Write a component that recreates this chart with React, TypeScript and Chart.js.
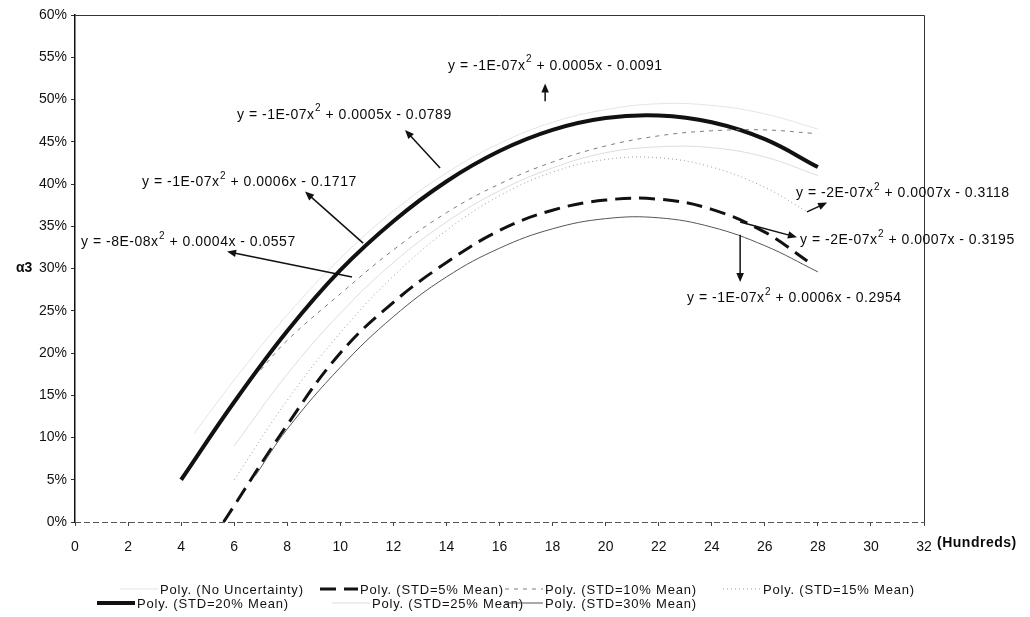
import React, { useEffect, useRef } from "react";
import { Chart, registerables } from "chart.js";
Chart.register(...registerables);

// ---------- data (x in hundreds, y in %) ----------
const SERIES_NAMES = [
  "Poly. (No Uncertainty)",
  "Poly. (STD=5% Mean)",
  "Poly. (STD=10% Mean)",
  "Poly. (STD=15% Mean)",
  "Poly. (STD=20% Mean)",
  "Poly. (STD=25% Mean)",
  "Poly. (STD=30% Mean)",
];

const X_NO_UNC = [4.5, 6, 8, 10, 12, 14, 16, 18, 20, 22, 24, 26, 28];
const Y_NO_UNC = [10.5, 16.8, 24.5, 31.2, 36.8, 41.3, 44.8, 47.3, 48.8, 49.5, 49.3, 48.3, 46.5];

const X_STD5 = [5.6, 8, 10, 12, 14, 16, 18, 20, 22, 24, 26, 27.6];
const Y_STD5 = [0, 11.5, 20.0, 26.0, 30.7, 34.5, 36.9, 38.1, 38.2, 37.0, 34.3, 30.9];

const X_STD10 = [7, 8, 10, 12, 14, 16, 18, 20, 22, 24, 26, 27.8];
const Y_STD10 = [18.0, 21.5, 27.0, 32.2, 36.6, 40.0, 42.6, 44.5, 45.7, 46.3, 46.4, 46.0];

const X_STD15 = [6, 8, 10, 12, 14, 16, 18, 20, 22, 24, 26, 27.6];
const Y_STD15 = [5.0, 14.4, 22.4, 29.1, 34.5, 38.6, 41.4, 42.9, 43.1, 42.0, 39.6, 36.7];

const X_STD20 = [4, 6, 8, 10, 12, 14, 16, 18, 20, 22, 24, 26, 28];
const Y_STD20 = [5.0, 14.2, 22.6, 29.8, 35.6, 40.3, 43.9, 46.4, 47.8, 48.1, 47.3, 45.3, 42.0];

const X_STD25 = [6, 8, 10, 12, 14, 16, 18, 20, 22, 24, 26, 28];
const Y_STD25 = [9.0, 17.5, 24.7, 30.7, 35.5, 39.2, 41.9, 43.7, 44.4, 44.3, 43.2, 41.0];

const X_STD30 = [6.8, 8, 10, 12, 14, 16, 18, 20, 22, 24, 26, 28];
const Y_STD30 = [5.5, 11.0, 18.3, 24.3, 29.0, 32.4, 34.7, 35.9, 36.0, 34.9, 32.7, 29.6];

const X_MIN = 0;
const X_MAX = 32;
const X_STEP = 2;
const Y_MIN = 0;
const Y_MAX = 60;
const Y_STEP = 5;

// trendline equation labels: [before superscript, superscript, after]
const EQUATIONS = [
  ["y = -1E-07x", "2", " + 0.0005x - 0.0091"],
  ["y = -1E-07x", "2", " + 0.0005x - 0.0789"],
  ["y = -1E-07x", "2", " + 0.0006x - 0.1717"],
  ["y = -8E-08x", "2", " + 0.0004x - 0.0557"],
  ["y = -2E-07x", "2", " + 0.0007x - 0.3118"],
  ["y = -2E-07x", "2", " + 0.0007x - 0.3195"],
  ["y = -1E-07x", "2", " + 0.0006x - 0.2954"],
];

// ---------- layout / styles (kept apart from data) ----------
// label anchor (left, middle) in data coords
const EQ_ANCHOR = [
  [14.06, 54.0],
  [6.11, 48.2],
  [2.53, 40.2],
  [0.23, 33.1],
  [27.18, 38.9],
  [27.33, 33.4],
  [23.07, 26.5],
];
// arrow [tailX, tailY, headX, headY] in data coords
const EQ_ARROW = [
  [17.72, 49.8, 17.72, 51.9],
  [13.76, 41.9, 12.44, 46.4],
  [10.86, 33.0, 8.67, 39.1],
  [10.44, 29.0, 5.73, 32.0],
  [27.59, 36.7, 28.35, 37.8],
  [25.07, 35.5, 27.21, 33.7],
  [25.07, 34.0, 25.07, 28.4],
];

const STYLES = [
  { color: "#e4e4e4", width: 1, dash: [] as number[] },
  { color: "#111111", width: 3, dash: [16, 8] },
  { color: "#7a7a7a", width: 1, dash: [4, 5] },
  { color: "#9a9a9a", width: 1, dash: [1, 3] },
  { color: "#111111", width: 4, dash: [] as number[] },
  { color: "#dcdcdc", width: 1, dash: [] as number[] },
  { color: "#555555", width: 1, dash: [] as number[] },
];

// legend item positions: [textLeft, centerY]
const LEGEND_POS = [
  [160, 589],
  [360, 589],
  [545, 589],
  [763, 589],
  [137, 603],
  [372, 603],
  [545, 603],
];

const SERIES_X = [X_NO_UNC, X_STD5, X_STD10, X_STD15, X_STD20, X_STD25, X_STD30];
const SERIES_Y = [Y_NO_UNC, Y_STD5, Y_STD10, Y_STD15, Y_STD20, Y_STD25, Y_STD30];
const DRAW_ORDER = [0, 5, 3, 2, 6, 1, 4];

const FONT = '"Liberation Sans", Arial, sans-serif';

const overlayPlugin = {
  id: "overlay",
  afterDatasetsDraw(chart: any) {
    const { ctx, chartArea: a, scales } = chart;
    const xs = scales.x;
    const ys = scales.y;
    ctx.save();
    // frame: top + right solid, bottom dashed grey
    ctx.strokeStyle = "#333";
    ctx.lineWidth = 1;
    ctx.beginPath();
    ctx.moveTo(a.left, a.top + 0.5);
    ctx.lineTo(a.right + 0.5, a.top + 0.5);
    ctx.lineTo(a.right + 0.5, a.bottom);
    ctx.stroke();
    ctx.strokeStyle = "#555";
    ctx.setLineDash([6, 3]);
    ctx.beginPath();
    ctx.moveTo(a.left, a.bottom + 0.5);
    ctx.lineTo(a.right, a.bottom + 0.5);
    ctx.stroke();
    ctx.setLineDash([]);

    // arrows
    ctx.strokeStyle = "#111";
    ctx.fillStyle = "#111";
    ctx.lineWidth = 1.5;
    EQ_ARROW.forEach(([tx, ty, hx, hy]) => {
      const x1 = xs.getPixelForValue(tx);
      const y1 = ys.getPixelForValue(ty);
      const x2 = xs.getPixelForValue(hx);
      const y2 = ys.getPixelForValue(hy);
      const ang = Math.atan2(y2 - y1, x2 - x1);
      const L = 9;
      const W = 3.8;
      ctx.beginPath();
      ctx.moveTo(x1, y1);
      ctx.lineTo(x2 - Math.cos(ang) * L * 0.8, y2 - Math.sin(ang) * L * 0.8);
      ctx.stroke();
      ctx.beginPath();
      ctx.moveTo(x2, y2);
      ctx.lineTo(x2 - Math.cos(ang) * L - Math.sin(ang) * W, y2 - Math.sin(ang) * L + Math.cos(ang) * W);
      ctx.lineTo(x2 - Math.cos(ang) * L + Math.sin(ang) * W, y2 - Math.sin(ang) * L - Math.cos(ang) * W);
      ctx.closePath();
      ctx.fill();
    });

    // equations
    ctx.fillStyle = "#0a0a0a";
    ctx.textBaseline = "middle";
    ctx.textAlign = "left";
    if ("letterSpacing" in ctx) (ctx as any).letterSpacing = "0.5px";
    EQUATIONS.forEach(([p1, sup, p2], i) => {
      const [ax, ay] = EQ_ANCHOR[i];
      let px = xs.getPixelForValue(ax);
      const py = ys.getPixelForValue(ay);
      ctx.font = "14px " + FONT;
      ctx.fillText(p1, px, py);
      px += ctx.measureText(p1).width + 0.5;
      ctx.font = "10px " + FONT;
      ctx.fillText(sup, px, py - 6);
      px += ctx.measureText(sup).width;
      ctx.font = "14px " + FONT;
      ctx.fillText(p2, px, py);
    });

    // axis titles
    ctx.font = "bold 14px " + FONT;
    ctx.fillText("(Hundreds)", a.right + 13, a.bottom + 21);
    if ("letterSpacing" in ctx) (ctx as any).letterSpacing = "0px";
    ctx.fillText("α3", 16, ys.getPixelForValue(30));
    ctx.restore();
  },
};

function LegendSample({ idx }: { idx: number }) {
  const s = STYLES[idx];
  return (
    <svg width={38} height={10} style={{ display: "block" }}>
      <line
        x1={0}
        y1={5}
        x2={38}
        y2={5}
        stroke={s.color}
        strokeWidth={s.width}
        strokeDasharray={s.dash.length ? s.dash.join(",") : undefined}
      />
    </svg>
  );
}

export default function App() {
  const ref = useRef<HTMLCanvasElement | null>(null);

  useEffect(() => {
    if (!ref.current) return;
    const datasets = DRAW_ORDER.map((i) => ({
      label: SERIES_NAMES[i],
      data: SERIES_X[i].map((x, k) => ({ x, y: SERIES_Y[i][k] })),
      borderColor: STYLES[i].color,
      borderWidth: STYLES[i].width,
      borderDash: STYLES[i].dash,
      pointRadius: 0,
      fill: false,
      tension: 0.4,
    }));
    const chart = new Chart(ref.current, {
      type: "line",
      data: { datasets },
      options: {
        animation: false,
        responsive: false,
        maintainAspectRatio: false,
        layout: { padding: { left: 0, right: 106, top: 15, bottom: 55 } },
        plugins: { legend: { display: false }, tooltip: { enabled: false } },
        scales: {
          x: {
            type: "linear",
            min: X_MIN,
            max: X_MAX,
            afterFit: (s: any) => {
              s.height = 40;
            },
            ticks: {
              stepSize: X_STEP,
              color: "#111",
              padding: 13,
              maxRotation: 0,
              font: { family: '"Liberation Sans Narrow", "Liberation Sans", Arial', size: 14 },
            },
            grid: { display: true, drawOnChartArea: false, drawTicks: true, tickLength: 4, color: "#444" },
            border: { display: false },
          },
          y: {
            type: "linear",
            min: Y_MIN,
            max: Y_MAX,
            afterFit: (s: any) => {
              s.width = 75;
            },
            ticks: {
              stepSize: Y_STEP,
              color: "#111",
              padding: 4,
              font: { family: FONT, size: 14 },
              callback: (v: any) => v + "%",
            },
            grid: { display: true, drawOnChartArea: false, drawTicks: true, tickLength: 4, color: "#333" },
            border: { display: true, color: "#111", width: 1.5 },
          },
        },
      },
      plugins: [overlayPlugin],
    });
    return () => chart.destroy();
  }, []);

  return (
    <div style={{ position: "fixed", left: 0, top: 0, width: 1030, height: 617, background: "#fff" }}>
      <canvas ref={ref} width={1030} height={617} style={{ position: "absolute", left: 0, top: 0 }} />
      {SERIES_NAMES.map((name, i) => (
        <div
          key={name}
          style={{
            position: "absolute",
            left: LEGEND_POS[i][0] - 40,
            top: LEGEND_POS[i][1] - 8,
            height: 16,
            display: "flex",
            alignItems: "center",
            fontFamily: FONT,
            fontSize: 13,
            letterSpacing: "0.8px",
            color: "#111",
            whiteSpace: "nowrap",
          }}
        >
          <LegendSample idx={i} />
          <span style={{ marginLeft: 2 }}>{name}</span>
        </div>
      ))}
    </div>
  );
}
